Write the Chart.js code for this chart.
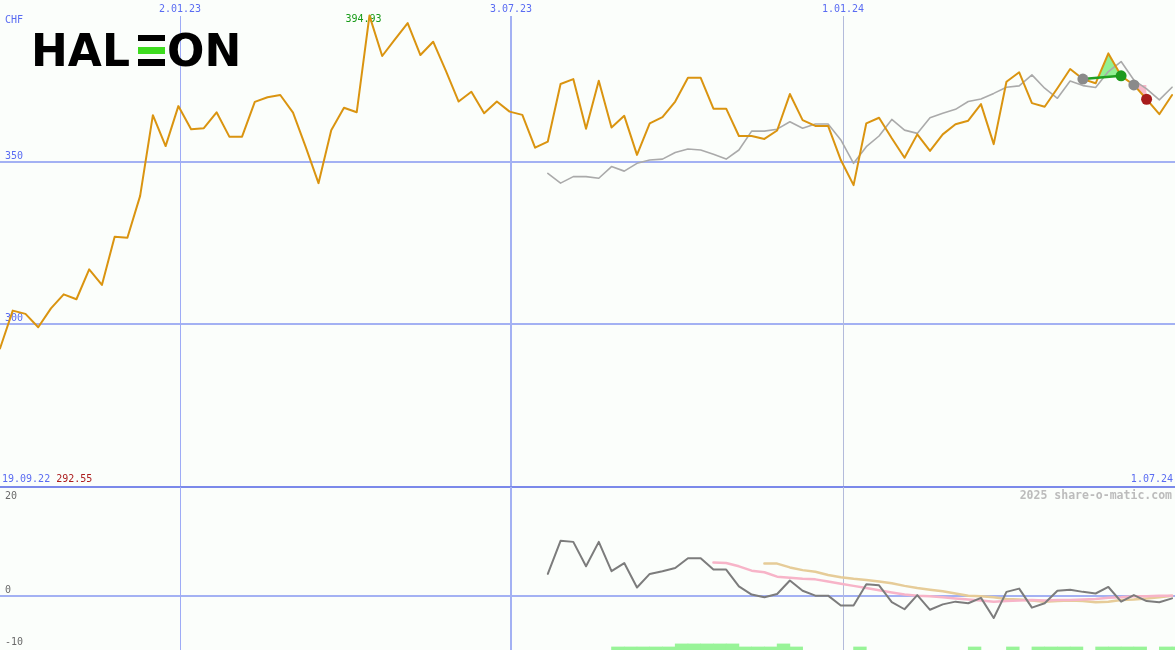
<!DOCTYPE html>
<html>
<head>
<meta charset="utf-8">
<title>HALEON CHF</title>
<script src="https://cdn.jsdelivr.net/npm/chart.js"></script>
<style>
  body { margin: 0; background: #fbfefb; }
  #wrap { position: relative; width: 1175px; height: 650px; overflow: hidden; }
  #top { position: absolute; left: 0; top: 0; }
  #bottom { position: absolute; left: 0; top: 487px; }
</style>
</head>
<body>
<div id="wrap">
  <canvas id="top" width="1175" height="488"></canvas>
  <canvas id="bottom" width="1175" height="163"></canvas>
</div>
<script>
// weekly closes in CHF, first point = week of 25.09.22
const firstWeek = Date.UTC(2022, 8, 25);
const closes = [
  292.55, 304.2, 303.2, 299.1, 304.9, 309.2, 307.7, 316.9, 312.1, 326.9,
  326.6, 339.5, 364.3, 354.8, 367.1, 360.0, 360.3, 365.2, 357.7, 357.7,
  368.4, 369.8, 370.5, 365.1, 354.5, 343.4, 359.7, 366.6, 365.2, 394.93,
  382.5, 387.6, 392.6, 382.8, 386.9, 377.9, 368.5, 371.5, 364.9, 368.5,
  365.4, 364.4, 354.3, 356.2, 373.9, 375.4, 360.1, 374.9, 360.5, 364.1,
  352.1, 361.8, 363.7, 368.5, 375.8, 375.8, 366.3, 366.3, 357.9, 357.9,
  357.0, 359.6, 370.8, 362.8, 361.0, 361.0, 350.5, 342.8, 361.8, 363.5,
  357.2, 351.2, 358.4, 353.3, 358.4, 361.5, 362.6, 367.7, 355.4, 374.6,
  377.5, 368.0, 366.9, 372.6, 378.5, 375.4, 374.1, 383.3, 376.4, 373.6,
  369.2, 364.6, 370.5
];

// comparison line (grey), starts at week 43
const benchStart = 43;
const bench = [
  346.4, 343.4, 345.4, 345.4, 344.9, 348.5, 347.1, 349.5, 350.5, 350.8,
  352.8, 353.9, 353.6, 352.3, 350.8, 353.6, 359.4, 359.4, 360.0, 362.3,
  360.3, 361.6, 361.6, 356.7, 349.5, 354.6, 357.9, 363.0, 359.7, 358.7,
  363.5, 364.9, 366.1, 368.5, 369.3, 371.0, 372.9, 373.3, 376.7, 372.6,
  369.5, 374.8, 373.4, 372.8, 377.7, 380.8, 375.1, 372.4, 369.0, 372.9
];

// lower panel
const momStart = 43;
const momentum = [
  4.0, 10.1, 9.9, 5.4, 9.9, 4.5, 6.0, 1.5, 4.0, 4.5,
  5.1, 6.9, 6.9, 4.8, 4.8, 1.7, 0.2, -0.3, 0.3, 2.8,
  0.9, 0.0, 0.0, -1.8, -1.8, 2.1, 1.9, -1.2, -2.5, 0.1,
  -2.6, -1.6, -1.1, -1.4, -0.4, -4.1, 0.7, 1.3, -2.2, -1.4,
  0.9, 1.1, 0.7, 0.4, 1.6, -1.1, 0.1, -1.0, -1.2, -0.5
];
const fastStart = 56;
const fastAvg = [
  6.1, 6.0, 5.4, 4.6, 4.3, 3.5, 3.3, 3.1, 3.0, 2.6,
  2.2, 1.8, 1.4, 1.0, 0.6, 0.2, 0.0, -0.1, -0.3, -0.5,
  -0.7, -0.9, -1.1, -1.0, -0.9, -0.8, -0.9, -0.8, -0.8, -0.7,
  -0.6, -0.4, -0.3, -0.1, -0.1, 0.0, 0.0
];
const slowStart = 60;
const slowAvg = [
  5.9, 5.9, 5.2, 4.7, 4.4, 3.8, 3.4, 3.1, 2.9, 2.6,
  2.3, 1.8, 1.4, 1.1, 0.8, 0.4, 0.0, -0.1, -0.3, -0.6,
  -0.7, -0.9, -1.1, -1.0, -0.9, -1.0, -1.2, -1.1, -0.8, -0.7,
  -0.5, -0.3, 0.0
];
const barWeeks = [48, 49, 50, 51, 52, 53, 54, 55, 56, 57, 58, 59, 60, 61, 62,
  67, 76, 79, 81, 82, 83, 84, 86, 87, 88, 89, 91, 92];
const barLevels = [1, 1, 1, 1, 1, 2, 2, 2, 2, 2, 1, 1, 1, 2, 1,
  1, 1, 1, 1, 1, 1, 1, 1, 1, 1, 1, 1, 1];

// signals on the price line
const signalWeeks = [85, 88, 89, 90];
const signalColors = ['#8a8a8a', '#1f9a1f', '#8a8a8a', '#a81c1c'];

const gridDates = ['2.01.23', '3.07.23', '1.01.24'];
const rangeLabels = ['19.09.22', '1.07.24'];
const priceTicks = [300, 350];
const momTicks = [20, 0, -10];

const xMax = 92.23;
const blue = '#5a6cf2';
const gridBlue = '#a3b1f3';
const mono = '"DejaVu Sans Mono", "Liberation Mono", monospace';

function pts(start, arr) {
  return arr.map((v, i) => ({ x: start + i, y: v }));
}

function dateWeek(s) {
  var p = s.split('.');
  return (Date.UTC(2000 + Number(p[2]), Number(p[1]) - 1, Number(p[0])) - firstWeek) / 604800000;
}

var vWidths = [1, 2, 1];
var vColors = ['#9eabf6', '#a3b1f3', '#b3bbdb'];

function drawVerticals(chart, top) {
  var ctx = chart.ctx, x = chart.scales.x, area = chart.chartArea;
  gridDates.forEach(function (d, i) {
    var px = Math.round(x.getPixelForValue(dateWeek(d)));
    ctx.fillStyle = vColors[i];
    ctx.fillRect(px - Math.floor(vWidths[i] / 2), top, vWidths[i], area.bottom - top);
  });
}

const topDecor = {
  id: 'topDecor',
  beforeDatasetsDraw(chart) {
    var ctx = chart.ctx, x = chart.scales.x, y = chart.scales.y;
    var w = chart.width;
    ctx.save();
    ctx.fillStyle = gridBlue;
    priceTicks.forEach(function (v) {
      ctx.fillRect(0, Math.round(y.getPixelForValue(v)) - 1, w, 2);
    });
    drawVerticals(chart, 16);
    ctx.fillStyle = '#7b89ea';
    ctx.fillRect(0, chart.height - 2, w, 2);

    ctx.font = '10px ' + mono;
    ctx.textBaseline = 'middle';
    ctx.fillStyle = blue;
    ctx.textAlign = 'left';
    ctx.fillText('CHF', 5, 20);
    priceTicks.forEach(function (v) {
      ctx.fillText(String(v), 5, Math.round(y.getPixelForValue(v)) - 6);
    });
    ctx.textAlign = 'center';
    gridDates.forEach(function (d) {
      ctx.fillText(d, Math.round(x.getPixelForValue(dateWeek(d))), 9);
    });

    // high / low
    var hi = Math.max.apply(null, closes), lo = Math.min.apply(null, closes);
    var hiIdx = closes.indexOf(hi);
    ctx.fillStyle = '#179a17';
    ctx.fillText(hi.toFixed(2), x.getPixelForValue(hiIdx) - 6, y.getPixelForValue(hi) + 4);
    ctx.textAlign = 'left';
    ctx.fillStyle = blue;
    ctx.fillText(rangeLabels[0], 2, 479);
    var off = ctx.measureText(rangeLabels[0] + ' ').width;
    ctx.fillStyle = '#ac1c1c';
    ctx.fillText(lo.toFixed(2), 2 + off, 479);
    ctx.textAlign = 'right';
    ctx.fillStyle = blue;
    ctx.fillText(rangeLabels[1], 1173, 479);

    // logo
    ctx.fillStyle = '#000';
    ctx.font = 'bold 44px "DejaVu Sans"';
    ctx.textAlign = 'left';
    ctx.textBaseline = 'alphabetic';
    ctx.fillText('HAL', 31, 66);
    ctx.fillRect(138, 35, 27, 6);
    ctx.fillRect(138, 59, 27, 7);
    ctx.fillStyle = '#3ddc1e';
    ctx.fillRect(138, 47, 27, 7);
    ctx.fillStyle = '#000';
    ctx.fillText('ON', 167, 66);
    ctx.restore();
  }
};

const bottomDecor = {
  id: 'bottomDecor',
  beforeDatasetsDraw(chart) {
    var ctx = chart.ctx, y = chart.scales.y;
    ctx.save();
    ctx.fillStyle = gridBlue;
    ctx.fillRect(0, Math.round(y.getPixelForValue(0)) - 1, chart.width, 2);
    drawVerticals(chart, 0);
    ctx.font = '10px ' + mono;
    ctx.textBaseline = 'middle';
    ctx.fillStyle = '#6a6a6a';
    momTicks.forEach(function (v) {
      var py = Math.round(y.getPixelForValue(v)) - 6;
      py = Math.min(Math.max(py, 9), chart.height - 8);
      ctx.fillText(String(v), 5, py);
    });
    ctx.font = 'bold 11.5px ' + mono;
    ctx.textAlign = 'right';
    ctx.fillStyle = '#bcbcbc';
    ctx.fillText('2025 share-o-matic.com', 1172, 9);
    ctx.restore();
  }
};

var baseOptions = function (ymin, ymax) {
  return {
    responsive: false,
    animation: false,
    devicePixelRatio: 1,
    layout: { padding: 0, autoPadding: false },
    elements: {
      point: { radius: 0, hoverRadius: 0 },
      line: { tension: 0, borderJoinStyle: 'round', borderCapStyle: 'round' }
    },
    plugins: {
      legend: { display: false },
      tooltip: { enabled: false },
      filler: { drawTime: 'beforeDatasetsDraw' }
    },
    scales: {
      x: { type: 'linear', min: 0, max: xMax, display: false, offset: false },
      y: { min: ymin, max: ymax, display: false }
    }
  };
};

var sig = signalWeeks.map(function (w) { return { x: w, y: closes[w] }; });

new Chart(document.getElementById('top'), {
  type: 'line',
  data: {
    datasets: [
      { label: 'HALEON', data: pts(0, closes), borderColor: '#da9410', borderWidth: 2, fill: false, order: 2 },
      { label: 'Index', data: pts(benchStart, bench), borderColor: '#aaaaaa', borderWidth: 1.6, fill: false, order: 3 },
      { label: 'up', data: [sig[0], sig[1]], borderColor: '#22a022', borderWidth: 2.5,
        fill: { target: 0, above: 'rgba(0,0,0,0)', below: '#92f092' }, order: 1 },
      { label: 'down', data: [sig[2], { x: signalWeeks[3], y: sig[2].y }], borderWidth: 0, borderColor: 'rgba(0,0,0,0)',
        fill: { target: 0, above: '#f8b9ca', below: 'rgba(0,0,0,0)' }, order: 1 },
      { label: 'signals', data: sig, showLine: false, fill: false, pointRadius: 5.5,
        pointBackgroundColor: signalColors, pointBorderWidth: 0, order: 0 }
    ]
  },
  options: baseOptions(249.66, 399.72),
  plugins: [topDecor]
});

new Chart(document.getElementById('bottom'), {
  type: 'line',
  data: {
    datasets: [
      { type: 'bar', label: 'trend',
        data: barWeeks.map(function (w, i) { return { x: w + 0.5, y: [-10, -10 + barLevels[i] * 0.56] }; }),
        backgroundColor: '#98f498', borderWidth: 0, barPercentage: 1, categoryPercentage: 1, order: 3 },
      { label: 'slow', data: pts(slowStart, slowAvg), borderColor: '#e6cc98', borderWidth: 2.5, fill: false, order: 2 },
      { label: 'fast', data: pts(fastStart, fastAvg), borderColor: '#f7b4c8', borderWidth: 2.5, fill: false, order: 1 },
      { label: 'momentum', data: pts(momStart, momentum), borderColor: '#7c7c7c', borderWidth: 2, fill: false, order: 0 }
    ]
  },
  options: baseOptions(-10, 20),
  plugins: [bottomDecor]
});
</script>
</body>
</html>
